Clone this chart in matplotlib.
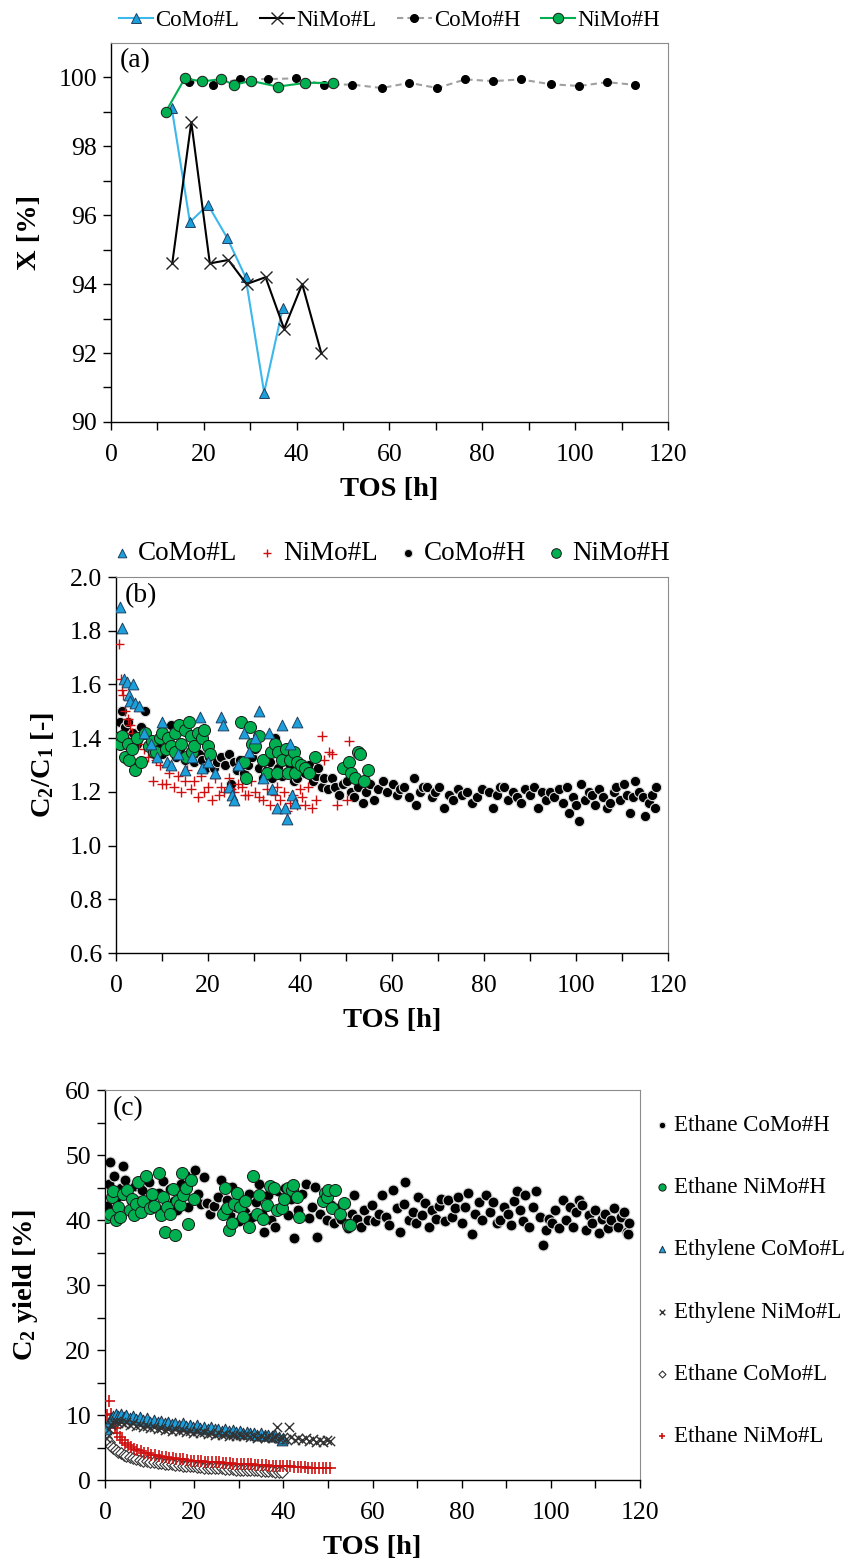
# IMPORT LIBRARY
import matplotlib
matplotlib.use("Agg")
import matplotlib.pyplot as plt


# DATA - panel (a): conversion X [%]
tos_a_como_l = [13.1, 17.0, 20.9, 25.0, 29.0, 33.0, 37.0]
x_a_como_l = [99.1, 95.8, 96.3, 95.35, 94.2, 90.85, 93.3]

tos_a_nimo_l = [13.2, 17.3, 21.3, 25.3, 29.2, 33.3, 37.3, 41.2, 45.3]
x_a_nimo_l = [94.6, 98.7, 94.6, 94.7, 94.0, 94.2, 92.7, 94.0, 92.0]

tos_a_como_h = [16.8, 21.9, 27.9, 33.8, 39.9, 46.0, 52.0, 58.3, 64.3,
                70.3, 76.3, 82.3, 88.3, 94.7, 100.9, 106.9, 113.0]
x_a_como_h = [99.87, 99.79, 99.95, 99.95, 99.97, 99.79, 99.79, 99.69, 99.84,
              99.69, 99.94, 99.89, 99.94, 99.80, 99.75, 99.86, 99.78]

tos_a_nimo_h = [11.8, 15.9, 19.7, 23.8, 26.5, 30.1, 35.9, 41.9, 47.9]
x_a_nimo_h = [99.0, 99.97, 99.88, 99.95, 99.78, 99.9, 99.73, 99.84, 99.84]

# DATA - panel (b): C2/C1 ratio
tos_b_como_l = [0.8, 1.2, 1.8, 2.4, 2.8, 3.1, 3.8, 4.1, 4.9, 6.0, 7.5, 9.0,
                10.0, 11.0, 12.0, 13.5, 15.0, 16.5, 18.3, 18.7, 20.0, 21.5,
                22.8, 23.3, 24.5, 25.3, 25.6, 26.5, 27.8, 29.0, 30.3, 31.0,
                32.0, 33.2, 34.0, 35.1, 36.1, 36.8, 37.2, 37.8, 38.2, 39.0, 39.4]
r_b_como_l = [1.89, 1.81, 1.62, 1.61, 1.56, 1.54, 1.60, 1.53, 1.52, 1.42, 1.38, 1.33,
              1.46, 1.31, 1.30, 1.34, 1.28, 1.33, 1.48, 1.29, 1.31, 1.27,
              1.48, 1.45, 1.22, 1.19, 1.17, 1.30, 1.42, 1.35, 1.40, 1.50,
              1.25, 1.42, 1.21, 1.14, 1.45, 1.14, 1.10, 1.38, 1.19, 1.16, 1.46]

tos_b_nimo_l = [0.7, 1.0, 1.3, 1.5, 2.0, 2.5, 3.0, 3.5, 4.0, 5.0, 6.0, 7.0,
                8.0, 8.7, 9.5, 10.0, 10.8, 11.5, 12.5, 13.5, 14.2, 14.9, 15.5,
                16.2, 17.0, 17.9, 18.5, 19.1, 20.0, 20.8, 21.5, 22.3, 22.8,
                23.5, 24.5, 25.0, 25.7, 26.5, 27.4, 28.0, 28.6, 29.3, 30.3,
                31.0, 32.0, 32.8, 33.5, 34.5, 35.0, 35.7, 36.5, 37.1, 37.8,
                38.5, 39.4, 40.0, 40.5, 41.1, 41.8, 42.7, 43.5, 44.8, 45.3,
                46.3, 47.0, 48.1, 50.3, 50.7]
r_b_nimo_l = [1.75, 1.62, 1.58, 1.56, 1.50, 1.47, 1.45, 1.42, 1.40, 1.38, 1.36, 1.33,
              1.24, 1.32, 1.30, 1.23, 1.23, 1.27, 1.22, 1.26, 1.20, 1.24, 1.28,
              1.21, 1.24, 1.18, 1.26, 1.20, 1.22, 1.17, 1.25, 1.19, 1.22,
              1.20, 1.25, 1.21, 1.20, 1.23, 1.22, 1.19, 1.19, 1.24, 1.20,
              1.18, 1.17, 1.21, 1.15, 1.19, 1.22, 1.17, 1.20, 1.13, 1.16,
              1.19, 1.15, 1.21, 1.18, 1.15, 1.22, 1.14, 1.17, 1.41, 1.32,
              1.35, 1.34, 1.15, 1.17, 1.39]

tos_b_como_h = [0.4, 0.8, 1.4, 2.0, 2.5, 3.2, 3.7, 4.5, 5.4, 6.4, 7.0, 8.0, 9.0,
                10.0, 11.0, 12.0, 13.0, 14.0, 15.0, 16.0, 17.0, 18.0, 18.7,
                19.5, 20.3, 21.2, 22.0, 22.8, 23.6, 24.5, 24.9, 25.7, 26.4,
                27.0, 27.8, 28.6, 29.5, 30.3, 31.1, 32.0, 32.8, 33.5, 34.0,
                34.5, 35.3, 36.1, 37.0, 37.8, 38.6, 39.4, 40.2, 41.1, 42.0,
                42.8, 43.5, 44.0, 44.7, 45.3, 46.0, 46.9, 47.7, 48.5, 49.3,
                50.2, 51.0, 51.8, 52.7, 53.6, 54.4, 55.3, 56.1, 57.0, 58.1,
                59.0, 60.2, 61.0, 61.8, 62.7, 63.6, 64.8, 65.2, 66.0, 66.8,
                67.7, 68.6, 69.4, 70.2, 71.4, 72.3, 73.2, 74.3, 75.3, 76.4,
                77.5, 78.5, 79.6, 81.0, 81.9, 82.8, 83.5, 84.3, 85.3, 86.4,
                87.2, 88.0, 89.0, 89.9, 90.9, 91.8, 92.7, 93.5, 94.3, 95.3,
                96.2, 97.2, 98.0, 98.4, 99.3, 100.1, 100.7, 101.1, 102.0,
                102.8, 103.4, 104.2, 105.0, 105.9, 106.7, 107.5, 108.3, 108.8,
                109.6, 110.5, 111.0, 111.7, 112.4, 112.9, 113.8, 114.6, 115.0,
                115.8, 116.5, 117.1, 117.5]
r_b_como_h = [1.40, 1.46, 1.50, 1.44, 1.46, 1.40, 1.42, 1.38, 1.44, 1.50, 1.37, 1.35, 1.38,
              1.34, 1.36, 1.45, 1.33, 1.36, 1.32, 1.35, 1.31, 1.34, 1.32,
              1.29, 1.33, 1.29, 1.31, 1.33, 1.30, 1.34, 1.23, 1.31, 1.28,
              1.32, 1.27, 1.30, 1.33, 1.36, 1.29, 1.25, 1.28, 1.31, 1.25,
              1.40, 1.29, 1.26, 1.27, 1.30, 1.24, 1.25, 1.29, 1.27, 1.30,
              1.24, 1.26, 1.29, 1.22, 1.25, 1.21, 1.25, 1.22, 1.19, 1.23,
              1.24, 1.20, 1.18, 1.22, 1.16, 1.20, 1.23, 1.17, 1.21, 1.24,
              1.20, 1.23, 1.19, 1.21, 1.22, 1.18, 1.25, 1.15, 1.20, 1.22,
              1.22, 1.18, 1.20, 1.22, 1.14, 1.19, 1.17, 1.21, 1.19, 1.20,
              1.16, 1.18, 1.21, 1.20, 1.14, 1.19, 1.22, 1.22, 1.17, 1.20,
              1.18, 1.16, 1.21, 1.19, 1.22, 1.14, 1.20, 1.17, 1.20, 1.18,
              1.21, 1.16, 1.22, 1.12, 1.18, 1.15, 1.09, 1.23, 1.17,
              1.20, 1.19, 1.15, 1.21, 1.18, 1.14, 1.16, 1.20, 1.22,
              1.17, 1.23, 1.19, 1.12, 1.18, 1.24, 1.20, 1.18, 1.11,
              1.16, 1.19, 1.14, 1.22]

tos_b_nimo_h = [0.4, 0.9, 1.2, 1.9, 2.5, 2.9, 3.5, 4.2, 4.6, 5.4, 6.2, 7.1, 7.8,
                8.3, 8.7, 9.5, 10.0, 10.8, 11.2, 12.0, 12.9, 12.9, 13.7, 14.1,
                14.9, 15.2, 15.8, 16.2, 16.6, 17.0, 17.9, 18.7, 19.1, 19.9,
                20.5, 27.2, 27.8, 28.2, 29.1, 29.5, 30.3, 31.1, 32.0, 32.8,
                33.6, 34.5, 34.9, 35.3, 36.1, 37.0, 37.4, 37.8, 38.6, 39.0,
                39.4, 40.3, 41.1, 41.9, 43.2, 49.4, 50.7, 51.1, 51.9, 52.7,
                53.1, 54.0, 54.8]
r_b_nimo_h = [1.40, 1.38, 1.41, 1.33, 1.38, 1.32, 1.36, 1.28, 1.40, 1.31, 1.42, 1.37, 1.39,
              1.35, 1.35, 1.40, 1.42, 1.36, 1.40, 1.37, 1.42, 1.35, 1.45, 1.38,
              1.43, 1.33, 1.46, 1.41, 1.35, 1.37, 1.42, 1.40, 1.43, 1.37,
              1.34, 1.46, 1.31, 1.25, 1.44, 1.38, 1.37, 1.41, 1.32, 1.27,
              1.35, 1.38, 1.27, 1.35, 1.32, 1.36, 1.27, 1.32, 1.35, 1.27,
              1.31, 1.30, 1.29, 1.27, 1.33, 1.29, 1.31, 1.27, 1.25, 1.35,
              1.34, 1.24, 1.28]

# DATA - panel (c): C2 yield [%]
tos_c_ethane_como_h = [0.4, 0.9, 1.2, 2.0, 2.8, 3.5, 4.0, 4.4, 5.2, 6.0, 6.8, 7.5, 8.3,
                       9.0, 9.8, 10.6, 11.4, 12.2, 13.0, 13.8, 14.6, 15.4, 16.2,
                       17.0, 17.8, 18.6, 19.4, 20.1, 20.8, 21.5, 22.1, 22.9, 23.6,
                       24.5, 25.3, 26.1, 26.8, 27.3, 28.0, 28.5, 29.3, 30.0, 30.8,
                       31.5, 32.3, 33.0, 33.8, 34.5, 35.2, 35.7, 36.5, 37.3, 38.1,
                       38.8, 39.6, 40.3, 41.0, 41.8, 42.5, 43.3, 44.1, 45.0, 45.8,
                       46.4, 47.0, 47.5, 48.3, 49.0, 49.8, 50.6, 51.4, 52.2, 53.0,
                       53.8, 54.6, 55.3, 55.8, 56.6, 57.4, 58.2, 59.0, 59.8, 60.6,
                       61.4, 62.2, 63.0, 63.8, 64.6, 65.4, 66.2, 67.0, 67.4, 68.2,
                       69.0, 69.8, 70.2, 71.0, 71.8, 72.6, 73.4, 74.2, 75.0, 75.4,
                       76.2, 77.0, 77.8, 78.5, 79.1, 80.0, 80.8, 81.5, 82.3, 83.0,
                       83.8, 84.6, 85.5, 86.3, 87.1, 87.9, 88.7, 89.5, 90.3, 91.1,
                       91.8, 92.3, 93.0, 93.7, 94.3, 95.1, 95.9, 96.7, 97.5, 98.3,
                       98.9, 99.6, 100.3, 101.0, 101.8, 102.7, 103.4, 104.2, 105.0,
                       105.7, 106.4, 107.1, 107.9, 108.6, 109.3, 110.0, 110.8,
                       111.5, 112.2, 112.8, 113.5, 114.2, 115.0, 115.7, 116.4,
                       117.0, 117.2, 117.6]
y_c_ethane_como_h = [42.1, 45.5, 49.0, 46.7, 43.6, 45.0, 48.3, 46.2, 44.0, 42.8, 45.3, 43.0, 44.6,
                     42.0, 45.8, 43.5, 41.8, 44.2, 46.0, 42.5, 44.8, 43.0, 41.5,
                     45.5, 43.8, 42.0, 46.8, 47.7, 44.0, 42.5, 46.6, 42.6, 41.0,
                     42.1, 43.5, 46.2, 41.5, 43.1, 40.8, 45.1, 42.0, 39.8, 43.5,
                     41.2, 44.0, 40.5, 42.8, 45.5, 41.0, 38.2, 43.8, 40.0, 39.0,
                     44.5, 42.2, 45.0, 40.8, 43.3, 37.2, 41.5, 44.0, 45.6, 40.3,
                     42.0, 45.1, 37.4, 41.0, 43.0, 40.0, 42.3, 39.5, 41.8, 40.2,
                     42.5, 38.8, 41.0, 43.8, 40.2, 39.0, 41.5, 40.0, 42.3, 39.8,
                     41.0, 43.8, 40.5, 39.2, 44.6, 41.8, 38.2, 42.5, 45.9, 40.0,
                     41.2, 39.5, 43.6, 40.8, 42.6, 39.0, 41.5, 40.2, 42.2, 43.3,
                     39.8, 43.1, 40.5, 41.8, 43.6, 39.5, 42.0, 44.1, 37.9, 41.0,
                     42.8, 40.0, 43.8, 41.2, 42.8, 39.5, 40.0, 42.0, 41.0, 39.2,
                     43.0, 44.4, 41.5, 39.8, 43.8, 39.0, 42.0, 44.4, 40.5, 36.2,
                     38.5, 40.2, 39.5, 41.5, 38.8, 43.1, 40.0, 42.0, 39.0,
                     41.2, 43.1, 42.3, 38.5, 40.8, 39.6, 41.5, 38.0,
                     40.2, 41.0, 38.7, 40.0, 41.8, 39.0, 40.5, 41.3,
                     38.2, 37.9, 39.5]

tos_c_ethane_nimo_h = [0.5, 1.1, 1.5, 1.9, 2.5, 3.0, 3.4, 4.0, 4.9, 5.5, 6.0, 6.5, 7.0,
                       7.5, 8.0, 8.5, 9.3, 10.0, 10.5, 11.0, 12.0, 12.5, 13.0, 13.5,
                       14.0, 14.6, 15.2, 15.7, 16.2, 16.8, 17.2, 17.6, 18.2, 18.7,
                       19.4, 20.0, 26.5, 26.9, 27.3, 27.8, 28.4, 29.0, 29.5, 30.2,
                       31.0, 31.5, 32.2, 33.3, 34.0, 34.6, 35.5, 36.3, 37.0, 37.8,
                       38.5, 39.6, 40.2, 41.0, 41.9, 42.2, 43.0, 43.5, 48.8, 49.4,
                       49.7, 50.1, 50.9, 51.6, 52.7, 53.5, 54.6, 55.0]
y_c_ethane_nimo_h = [40.5, 41.0, 43.5, 44.4, 40.0, 42.0, 40.5, 44.0, 44.6, 41.5, 43.3, 40.8, 42.5,
                     45.9, 41.2, 43.0, 46.7, 41.8, 44.0, 42.2, 47.2, 40.8, 43.5, 38.2,
                     42.0, 41.0, 44.8, 37.7, 43.0, 42.3, 47.2, 43.9, 45.0, 39.4,
                     46.2, 43.2, 41.0, 44.9, 41.8, 38.5, 39.5, 42.5, 44.1, 42.0,
                     40.5, 43.0, 39.0, 46.7, 41.0, 43.8, 40.2, 42.3, 45.2, 44.9,
                     41.5, 41.8, 43.2, 45.0, 44.6, 45.4, 43.6, 40.5, 43.0, 44.1,
                     43.6, 44.6, 41.8, 44.6, 41.0, 42.6, 39.3, 39.2]

tos_c_ethylene_como_l = [0.3, 0.8, 1.3, 1.8, 2.4, 3.0, 3.6, 4.2, 4.8, 5.5, 6.2, 7.0, 7.8,
                         8.6, 9.4, 10.2, 11.0, 11.8, 12.6, 13.4, 14.2, 15.0, 15.8,
                         16.6, 17.4, 18.2, 19.0, 19.8, 20.6, 21.4, 22.2, 23.0, 23.8,
                         24.6, 25.4, 26.2, 27.0, 27.8, 28.6, 29.4, 30.2, 31.0, 31.8,
                         32.6, 33.4, 34.2, 35.0, 35.8, 36.6, 37.4, 38.2, 39.0, 39.6, 40.0]
y_c_ethylene_como_l = [7.8, 9.0, 9.6, 9.9, 10.2, 9.8, 10.1, 9.7, 10.0, 9.5, 9.9, 9.4, 9.7,
                       9.2, 9.5, 9.0, 9.3, 8.9, 9.1, 8.7, 9.0, 8.6, 8.8,
                       8.4, 8.7, 8.3, 8.5, 8.2, 8.4, 8.0, 8.2, 7.9, 8.1,
                       7.8, 7.9, 7.6, 7.8, 7.5, 7.7, 7.4, 7.5, 7.3, 7.4,
                       7.2, 7.3, 7.0, 7.2, 6.9, 7.0, 6.8, 6.9, 6.6, 6.2, 6.4]

tos_c_ethylene_nimo_l = [0.3, 0.8, 1.3, 1.8, 2.4, 3.0, 3.6, 4.2, 4.8, 5.5, 6.2, 7.0, 7.8,
                         8.6, 9.4, 10.2, 11.0, 11.8, 12.6, 13.4, 14.2, 15.0, 15.8,
                         16.6, 17.4, 18.2, 19.0, 19.8, 20.6, 21.4, 22.2, 23.0, 23.8,
                         24.6, 25.4, 26.2, 27.0, 27.8, 28.6, 29.4, 30.2, 31.0, 31.8,
                         32.6, 33.4, 34.2, 35.0, 35.8, 36.6, 37.4, 38.2, 38.5, 39.0,
                         39.8, 40.6, 41.3, 41.8, 42.6, 43.4, 44.2, 45.0, 45.8, 46.6,
                         47.4, 48.2, 49.0, 49.8, 50.5]
y_c_ethylene_nimo_l = [6.5, 7.8, 8.5, 8.9, 9.1, 8.8, 9.0, 8.6, 8.9, 8.4, 8.7, 8.3, 8.5,
                       8.1, 8.3, 8.0, 8.2, 7.8, 8.0, 7.7, 7.9, 7.6, 7.8,
                       7.5, 7.7, 7.4, 7.6, 7.3, 7.5, 7.2, 7.4, 7.1, 7.3,
                       7.0, 7.2, 6.9, 7.1, 6.8, 7.0, 6.8, 6.9, 6.7, 6.9,
                       6.6, 6.8, 6.5, 6.7, 6.5, 6.6, 6.4, 6.6, 8.1, 6.4,
                       6.5, 6.3, 8.1, 6.6, 6.2, 6.5, 6.1, 6.4, 6.0, 6.3,
                       5.9, 6.2, 5.9, 6.2, 6.0]

tos_c_ethane_como_l = [0.3, 0.8, 1.3, 1.8, 2.4, 3.0, 3.6, 4.2, 4.8, 5.5, 6.2, 7.0, 7.8,
                       8.6, 9.4, 10.2, 11.0, 11.8, 12.6, 13.4, 14.2, 15.0, 15.8,
                       16.6, 17.4, 18.2, 19.0, 19.8, 20.6, 21.4, 22.2, 23.0, 23.8,
                       24.6, 25.4, 26.2, 27.0, 27.8, 28.6, 29.4, 30.2, 31.0, 31.8,
                       32.6, 33.4, 34.2, 35.0, 35.8, 36.6, 37.4, 38.2, 39.0, 39.8]
y_c_ethane_como_l = [6.4, 5.8, 5.3, 4.9, 4.6, 4.3, 4.1, 3.9, 3.7, 3.5, 3.4, 3.2, 3.1,
                     3.0, 2.9, 2.8, 2.7, 2.6, 2.6, 2.5, 2.4, 2.4, 2.3,
                     2.3, 2.2, 2.2, 2.1, 2.1, 2.0, 2.0, 1.9, 1.9, 1.9,
                     1.8, 1.8, 1.8, 1.7, 1.7, 1.7, 1.6, 1.6, 1.6, 1.5,
                     1.5, 1.5, 1.5, 1.4, 1.4, 1.4, 1.4, 1.3, 1.3, 1.3]

tos_c_ethane_nimo_l = [0.5, 0.9, 1.3, 1.8, 2.3, 2.8, 3.3, 3.9, 4.5, 5.1, 5.8, 6.5, 7.2,
                       8.0, 8.8, 9.6, 10.4, 11.2, 12.0, 12.8, 13.6, 14.4, 15.2,
                       16.0, 16.8, 17.6, 18.4, 19.2, 20.0, 20.8, 21.6, 22.4, 23.2,
                       24.0, 24.8, 25.6, 26.4, 27.2, 28.0, 28.8, 29.6, 30.4, 31.2,
                       32.0, 32.8, 33.6, 34.4, 35.2, 36.0, 36.8, 37.6, 38.4, 39.2,
                       40.0, 40.8, 41.6, 42.4, 43.2, 44.0, 44.8, 45.6, 46.4, 47.2,
                       48.0, 48.8, 49.6, 50.4]
y_c_ethane_nimo_l = [10.0, 12.1, 10.2, 9.0, 8.0, 7.2, 6.6, 6.1, 5.7, 5.4, 5.1, 4.8, 4.6,
                     4.4, 4.2, 4.1, 3.9, 3.8, 3.7, 3.6, 3.5, 3.4, 3.4,
                     3.3, 3.2, 3.2, 3.1, 3.0, 3.0, 2.9, 2.9, 2.8, 2.8,
                     2.8, 2.7, 2.7, 2.6, 2.6, 2.6, 2.5, 2.5, 2.5, 2.4,
                     2.4, 2.4, 2.3, 2.3, 2.3, 2.3, 2.2, 2.2, 2.2, 2.1,
                     2.1, 2.1, 2.1, 2.0, 2.0, 2.0, 2.0, 1.9, 1.9, 1.9,
                     1.9, 1.8, 1.8, 1.8]

# COLOURS
BLUE = "#1CA0DC"
BLUE_LINE = "#3CB8EC"
GREEN = "#00B050"
RED = "#D01010"
EDGE_DARK = "#1a1a1a"


# FUNCTIONS
def style_axes(ax, xticks, yticks, ylabel_step, xlabel_step=20, fmt="{:g}"):
    """Excel-like frame: black left/bottom, grey top/right, outward ticks."""
    ax.spines["top"].set_color("#8c8c8c")
    ax.spines["right"].set_color("#8c8c8c")
    for s in ("left", "bottom"):
        ax.spines[s].set_color("black")
        ax.spines[s].set_linewidth(1.0)
    ax.set_xticks(xticks)
    ax.set_xticklabels([str(int(v)) if round(v) % xlabel_step == 0 else "" for v in xticks])
    ax.set_yticks(yticks)
    ax.set_yticklabels([fmt.format(v) if abs(round(v / ylabel_step) * ylabel_step - v) < 1e-6 else ""
                        for v in yticks])
    ax.tick_params(direction="out", length=6, width=1, labelsize=18.5)
    ax.tick_params(axis="x", pad=10)
    ax.tick_params(axis="y", pad=4)
    ax.set_xlabel("TOS [h]", fontsize=20.5, fontweight="bold", labelpad=8)


def execute():
    plt.rcParams["font.family"] = ["Liberation Serif", "DejaVu Serif"]
    plt.rcParams["mathtext.fontset"] = "custom"
    plt.rcParams["mathtext.rm"] = "Liberation Serif"
    plt.rcParams["mathtext.it"] = "Liberation Serif:italic"
    plt.rcParams["mathtext.bf"] = "Liberation Serif:bold"

    fig = plt.figure(figsize=(8.53, 15.65), dpi=100)

    # ---------------- panel (a)
    ax1 = fig.add_axes([0.1301, 0.7304, 0.653, 0.2422])
    ax1.plot(tos_a_como_l, x_a_como_l, color=BLUE_LINE, lw=1.5, marker="^", ms=7,
             mfc=BLUE, mec="#204060", mew=0.7, label="CoMo#L", zorder=3)
    ax1.plot(tos_a_nimo_l, x_a_nimo_l, color="black", lw=1.5, marker="x", ms=8,
             mec="#222222", mew=1.0, label="NiMo#L", zorder=3)
    ax1.plot(tos_a_como_h, x_a_como_h, color="#a0a0a0", lw=1.5, ls=(0, (3, 2)),
             marker="o", ms=5.5, mfc="black", mec="black", label="CoMo#H", zorder=4)
    ax1.plot(tos_a_nimo_h, x_a_nimo_h, color=GREEN, lw=1.5, marker="o", ms=7.5,
             mfc=GREEN, mec=EDGE_DARK, mew=0.7, label="NiMo#H", zorder=5)
    ax1.set_xlim(0, 120)
    ax1.set_ylim(90, 101)
    style_axes(ax1, list(range(0, 121, 10)), list(range(90, 101)), 2)
    ax1.set_ylabel("X [%]", fontsize=20.5, fontweight="bold", labelpad=12)
    ax1.text(0.015, 0.985, "(a)", transform=ax1.transAxes, fontsize=20, va="top")
    ax1.legend(loc="lower center", bbox_to_anchor=(0.5, 1.0), ncol=4, frameon=False,
               fontsize=16.5, handlelength=1.5, handletextpad=0.1, columnspacing=0.9,
               borderaxespad=0.1)

    # ---------------- panel (b)
    ax2 = fig.add_axes([0.136, 0.391, 0.6471, 0.2403])
    ax2.scatter(tos_b_como_h, r_b_como_h, s=55, c="black", edgecolors="#dcdcdc",
                linewidths=0.8, label="CoMo#H", zorder=2)
    ax2.scatter(tos_b_nimo_l, r_b_nimo_l, s=45, c=RED, marker="+", linewidths=1.0,
                label="NiMo#L", zorder=3)
    ax2.scatter(tos_b_nimo_h, r_b_nimo_h, s=75, c=GREEN, edgecolors=EDGE_DARK,
                linewidths=0.7, label="NiMo#H", zorder=4)
    ax2.scatter(tos_b_como_l, r_b_como_l, s=60, c=BLUE, marker="^", edgecolors="#204060",
                linewidths=0.7, label="CoMo#L", zorder=5)
    ax2.set_xlim(0, 120)
    ax2.set_ylim(0.6, 2.0)
    style_axes(ax2, list(range(0, 121, 10)), [0.6, 0.8, 1.0, 1.2, 1.4, 1.6, 1.8, 2.0],
               0.2, fmt="{:.1f}")
    ax2.set_ylabel(r"$\mathbf{C_2/C_1}$ [-]", fontsize=20.5, fontweight="bold", labelpad=10)
    ax2.text(0.015, 0.985, "(b)", transform=ax2.transAxes, fontsize=20, va="top")
    h, l = ax2.get_legend_handles_labels()
    order = [l.index(n) for n in ["CoMo#L", "NiMo#L", "CoMo#H", "NiMo#H"]]
    ax2.legend([h[i] for i in order], [l[i] for i in order], loc="lower center",
               bbox_to_anchor=(0.5, 1.0), ncol=4, frameon=False, fontsize=19.5,
               handlelength=0.6, handletextpad=0.3, columnspacing=0.8, borderaxespad=0.0,
               markerscale=0.8)

    # ---------------- panel (c)
    ax3 = fig.add_axes([0.1231, 0.0543, 0.6272, 0.2492])
    ax3.scatter(tos_c_ethane_como_h, y_c_ethane_como_h, s=62, c="black",
                edgecolors="#dcdcdc", linewidths=0.8, label="Ethane CoMo#H", zorder=2)
    ax3.scatter(tos_c_ethane_nimo_h, y_c_ethane_nimo_h, s=75, c=GREEN,
                edgecolors=EDGE_DARK, linewidths=0.7, label="Ethane NiMo#H", zorder=3)
    ax3.scatter(tos_c_ethane_como_l, y_c_ethane_como_l, s=35, marker="D", facecolors="white",
                edgecolors="#333333", linewidths=0.8, label="Ethane CoMo#L", zorder=2)
    ax3.scatter(tos_c_ethane_nimo_l, y_c_ethane_nimo_l, s=70, c=RED, marker="+",
                linewidths=1.2, label="Ethane NiMo#L", zorder=3)
    ax3.scatter(tos_c_ethylene_como_l, y_c_ethylene_como_l, s=60, c=BLUE, marker="^",
                edgecolors="#203040", linewidths=0.7, label="Ethylene CoMo#L", zorder=4)
    ax3.scatter(tos_c_ethylene_nimo_l, y_c_ethylene_nimo_l, s=45, c="#333333", marker="x",
                linewidths=1.0, label="Ethylene NiMo#L", zorder=5)
    ax3.set_xlim(0, 120)
    ax3.set_ylim(0, 60)
    style_axes(ax3, list(range(0, 121, 10)), list(range(0, 61, 5)), 10)
    ax3.set_ylabel(r"$\mathbf{C_2}$ yield [%]", fontsize=20.5, fontweight="bold", labelpad=18)
    ax3.text(0.015, 0.985, "(c)", transform=ax3.transAxes, fontsize=20, va="top")
    h, l = ax3.get_legend_handles_labels()
    names = ["Ethane CoMo#H", "Ethane NiMo#H", "Ethylene CoMo#L",
             "Ethylene NiMo#L", "Ethane CoMo#L", "Ethane NiMo#L"]
    order = [l.index(n) for n in names]
    fig.legend([h[i] for i in order], names, loc="upper left",
               bbox_to_anchor=(0.745, 1 - 1094 / 1565), frameon=False, fontsize=16.5,
               handlelength=0.5, handletextpad=0.3, labelspacing=1.8, markerscale=0.6)

    fig.savefig("out.png", dpi=100)


# EXECUTE
if __name__ == "__main__":
    execute()
